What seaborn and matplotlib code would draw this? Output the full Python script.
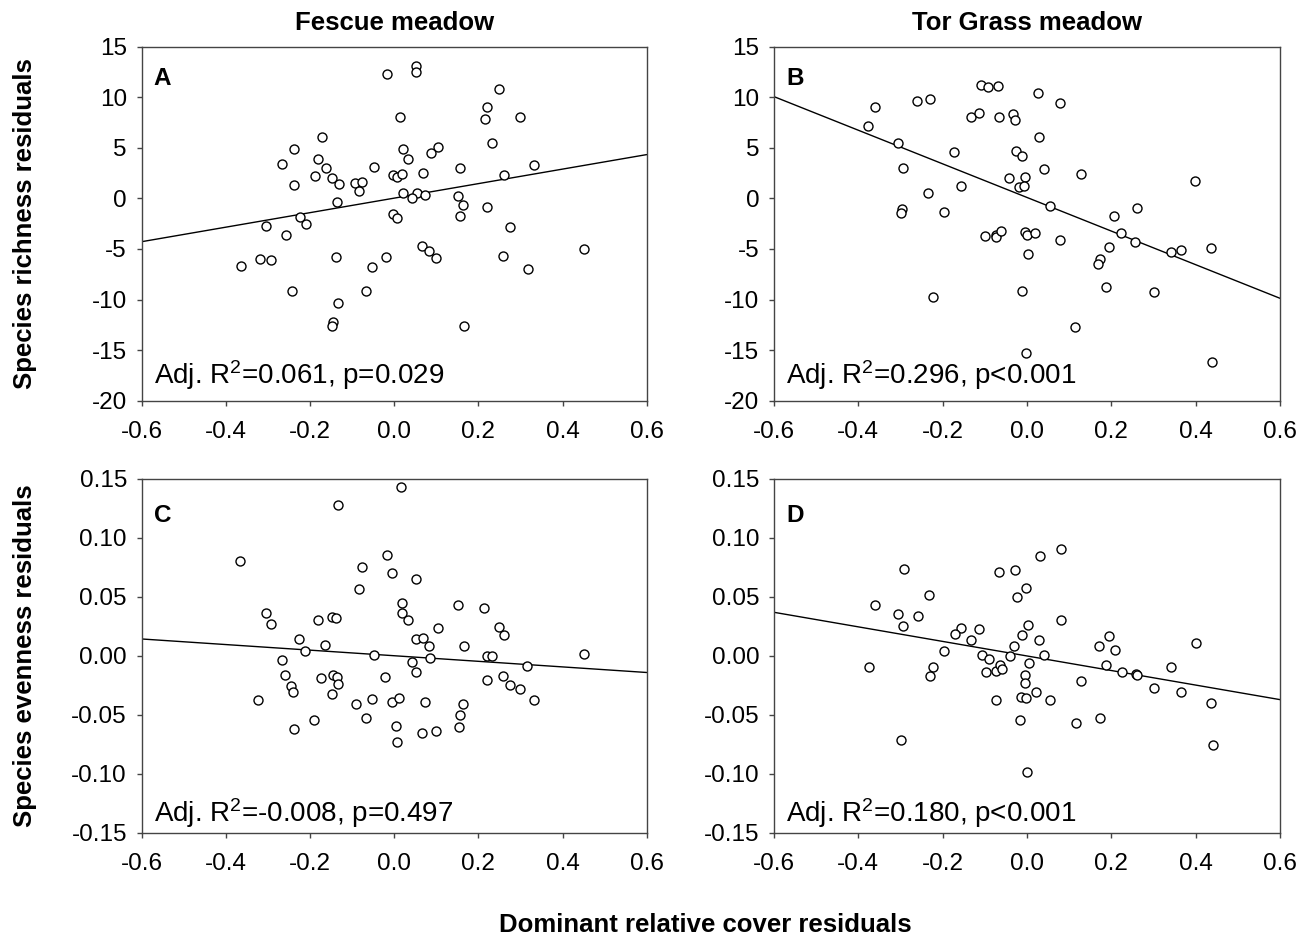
import numpy as np
import pandas as pd
import matplotlib
matplotlib.use('Agg')
import matplotlib.pyplot as plt
import seaborn as sns
from matplotlib.ticker import FormatStrFormatter

# A - Fescue meadow, species richness residuals vs dominant cover residuals
cover_A = [-0.018, -0.172, -0.239, -0.267, -0.181, -0.163, -0.048, -0.189, -0.147, -0.131,
           -0.237, -0.093, -0.076, -0.084, -0.136, -0.225, -0.210, -0.304, -0.258, -0.365,
           -0.320, -0.293, -0.139, -0.020, -0.052, -0.244, -0.067, -0.133, -0.146, -0.149,
           0.052, 0.052, 0.250, 0.220, 0.215, 0.299, 0.014, 0.233, 0.020, 0.103,
           0.087, 0.033, 0.156, 0.331, -0.004, 0.0075, 0.019, 0.069, 0.262, 0.020,
           0.054, 0.043, 0.073, 0.152, 0.164, 0.156, 0.220, -0.004, 0.0075, 0.276,
           0.450, 0.259, 0.317, 0.067, 0.083, 0.100, 0.166]
rich_A = [12.27, 6.07, 4.92, 3.37, 3.86, 3.00, 3.07, 2.18, 1.98, 1.39,
          1.32, 1.49, 1.65, 0.73, -0.33, -1.87, -2.53, -2.70, -3.65, -6.65,
          -5.99, -6.09, -5.76, -5.83, -6.82, -9.13, -9.13, -10.38, -12.26, -12.62,
          13.09, 12.50, 10.78, 9.04, 7.85, 8.01, 8.01, 5.44, 4.92, 5.11,
          4.45, 3.93, 3.00, 3.27, 2.31, 2.15, 2.38, 2.48, 2.34, 0.56,
          0.56, 0.04, 0.30, 0.24, -0.62, -1.71, -0.89, -1.55, -1.97, -2.86,
          -5.01, -5.66, -6.95, -4.68, -5.20, -5.93, -12.65]

# B - Tor Grass meadow, species richness residuals
cover_B = [-0.110, -0.092, -0.068, -0.360, -0.261, -0.229, -0.376, -0.134, -0.115, -0.066,
           -0.034, -0.029, -0.306, -0.173, -0.026, -0.013, -0.293, -0.157, -0.042, -0.005,
           -0.018, -0.007, -0.234, -0.296, -0.300, -0.198, -0.099, -0.074, -0.073, -0.061,
           -0.005, 0.001, 0.020, 0.003, -0.013, -0.223, -0.002,
           0.027, 0.078, 0.029, 0.040, 0.128, 0.398, 0.055, 0.207, 0.261, 0.223,
           0.257, 0.194, 0.079, 0.341, 0.364, 0.436, 0.173, 0.168, 0.187, 0.300,
           0.114, 0.439]
rich_B = [11.21, 10.98, 11.14, 9.07, 9.63, 9.79, 7.19, 8.05, 8.47, 8.01,
          8.38, 7.75, 5.48, 4.59, 4.65, 4.19, 3.04, 1.22, 2.05, 2.08,
          1.13, 1.18, 0.50, -1.05, -1.48, -1.35, -3.72, -3.62, -3.82, -3.19,
          -3.29, -3.65, -3.39, -5.50, -9.16, -9.78, -15.26,
          10.39, 9.40, 6.07, 2.94, 2.41, 1.75, -0.79, -1.74, -0.92, -3.46,
          -4.35, -4.84, -4.15, -5.30, -5.07, -4.91, -6.03, -6.46, -8.73, -9.29,
          -12.75, -16.21]

# C - Fescue meadow, species evenness residuals
cover_C = [-0.133, -0.366, -0.017, -0.077, -0.084, -0.305, -0.293, -0.182, -0.149, -0.138,
           -0.226, -0.164, -0.211, -0.049, -0.267, -0.259, -0.174, -0.146, -0.137, -0.134,
           -0.021, -0.245, -0.240, -0.148, -0.323, -0.092, -0.053, -0.190, -0.067, -0.239,
           0.017, -0.005, 0.051, 0.019, 0.019, 0.033, 0.151, 0.214, 0.103, 0.052,
           0.069, 0.082, 0.166, 0.250, 0.262, 0.086, 0.220, 0.233, 0.316, 0.450,
           0.043, 0.051, 0.220, 0.259, 0.276, 0.298, 0.331, -0.006, 0.012, 0.072,
           0.163, 0.156, 0.155, 0.005, 0.006, 0.066, 0.099]
even_C = [0.128, 0.0805, 0.0853, 0.0751, 0.057, 0.0367, 0.0268, 0.0305, 0.0327, 0.0324,
          0.0141, 0.0093, 0.0039, 0.0005, -0.0031, -0.0159, -0.0184, -0.0159, -0.0176, -0.0235,
          -0.0176, -0.0255, -0.0303, -0.0325, -0.0373, -0.0404, -0.0368, -0.054, -0.0523, -0.0619,
          0.143, 0.0703, 0.0649, 0.0449, 0.0364, 0.0305, 0.0435, 0.0409, 0.0234, 0.0144,
          0.0152, 0.0084, 0.0087, 0.0245, 0.0178, -0.002, 0.0002, 0.0002, -0.0082, 0.0019,
          -0.0054, -0.0139, -0.0201, -0.0173, -0.0249, -0.0277, -0.0373, -0.0387, -0.0359, -0.0387,
          -0.0407, -0.05, -0.0599, -0.0594, -0.0729, -0.065, -0.0633]

# D - Tor Grass meadow, species evenness residuals
cover_D = [-0.291, -0.067, -0.028, -0.003, -0.0245, -0.233, -0.360, -0.305, -0.295, -0.259,
           -0.157, -0.172, -0.115, -0.134, -0.011, 0.003, -0.032, -0.198, -0.1075, -0.040,
           -0.091, 0.005, -0.375, -0.223, -0.229, -0.098, -0.073, -0.065, -0.0585, -0.0055,
           -0.004, -0.0735, -0.0135, -0.003, -0.0166, -0.298, -0.001,
           0.031, 0.080, 0.080, 0.0285, 0.041, 0.0206, 0.0545, 0.129, 0.170, 0.195,
           0.209, 0.187, 0.2245, 0.2585, 0.261, 0.302, 0.341, 0.365, 0.400, 0.437,
           0.440, 0.115, 0.174]
even_D = [0.0737, 0.0709, 0.0726, 0.0573, 0.050, 0.0514, 0.0432, 0.0356, 0.0257, 0.0336,
          0.0234, 0.0189, 0.0231, 0.0135, 0.0178, 0.0259, 0.0084, 0.0039, 0.0008, -0.0003,
          -0.0029, -0.0057, -0.0096, -0.0094, -0.017, -0.0133, -0.0125, -0.0077, -0.0111, -0.0161,
          -0.0232, -0.037, -0.0351, -0.0356, -0.054, -0.0715, -0.0983,
          0.0844, 0.0906, 0.0305, 0.0135, 0.0008, -0.0305, -0.037, -0.0209, 0.0084, 0.0169,
          0.005, -0.0074, -0.0139, -0.0153, -0.0161, -0.0269, -0.0094, -0.0305, 0.011, -0.0396,
          -0.0757, -0.0571, -0.0526]

# fitted regression lines (values at x = -0.6 and 0.6)
fit_x = [-0.6, 0.6]
fit_A = [-4.28, 4.33]
fit_B = [10.06, -9.88]
fit_C = [0.0144, -0.014]
fit_D = [0.037, -0.037]

stats_A = "Adj. R$\\mathregular{^2}$=0.061, p=0.029"
stats_B = "Adj. R$\\mathregular{^2}$=0.296, p<0.001"
stats_C = "Adj. R$\\mathregular{^2}$=-0.008, p=0.497"
stats_D = "Adj. R$\\mathregular{^2}$=0.180, p<0.001"

sns.set_style('ticks')
plt.rcParams['font.family'] = ['Liberation Sans', 'DejaVu Sans']
plt.rcParams['mathtext.fontset'] = 'custom'
plt.rcParams['mathtext.rm'] = 'Liberation Sans'
plt.rcParams['axes.unicode_minus'] = False
plt.rcParams['text.color'] = 'black'
plt.rcParams['axes.labelcolor'] = 'black'

fig = plt.figure(figsize=(13.11, 9.41), dpi=100)

panels = [
    ('A', [0.1081, 0.5742, 0.3852, 0.3762], cover_A, rich_A, fit_A, stats_A),
    ('B', [0.5904, 0.5742, 0.3860, 0.3762], cover_B, rich_B, fit_B, stats_B),
    ('C', [0.1081, 0.1148, 0.3852, 0.3762], cover_C, even_C, fit_C, stats_C),
    ('D', [0.5904, 0.1148, 0.3860, 0.3762], cover_D, even_D, fit_D, stats_D),
]

for letter, pos, xs, ys, fit, stats in panels:
    ax = fig.add_axes(pos)
    sns.lineplot(x=fit_x, y=fit, ax=ax, color='black', linewidth=1.0, zorder=2)
    sns.scatterplot(x=xs, y=ys, ax=ax, s=42, color='white', edgecolor='black',
                    linewidth=1.0, zorder=3)
    ax.set_xlim(-0.6, 0.6)
    ax.set_xticks(np.arange(-0.6, 0.61, 0.2))
    ax.xaxis.set_major_formatter(FormatStrFormatter('%.1f'))
    if letter in 'AB':
        ax.set_ylim(-20, 15)
        ax.set_yticks(np.arange(-20, 16, 5))
        letter_y, stats_y = 0.893, 0.048
    else:
        ax.set_ylim(-0.15, 0.15)
        ax.set_yticks(np.arange(-0.15, 0.151, 0.05))
        ax.yaxis.set_major_formatter(FormatStrFormatter('%.2f'))
        letter_y, stats_y = 0.878, 0.03
    for sp in ax.spines.values():
        sp.set_color('#444444')
        sp.set_linewidth(1.0)
    ax.tick_params(axis='both', direction='out', length=3.6, width=1.0, color='#444444',
                   labelsize=17.5, labelcolor='black')
    ax.tick_params(axis='x', pad=11)
    ax.tick_params(axis='y', pad=7)
    ax.text(0.024, letter_y, letter, transform=ax.transAxes, fontsize=17.5,
            fontweight='bold', va='baseline', ha='left', color='black')
    ax.text(0.024, stats_y, stats, transform=ax.transAxes, fontsize=20,
            va='baseline', ha='left', color='black')
    if letter == 'A':
        ax.set_title('Fescue meadow', fontsize=18.5, fontweight='bold', pad=12, color='black')
    if letter == 'B':
        ax.set_title('Tor Grass meadow', fontsize=18.5, fontweight='bold', pad=12, color='black')

fig.text(0.0187, 0.7623, 'Species richness residuals', rotation=90, ha='center',
         va='center', fontsize=18.5, fontweight='bold', color='black')
fig.text(0.0187, 0.3029, 'Species evenness residuals', rotation=90, ha='center',
         va='center', fontsize=18.5, fontweight='bold', color='black')
fig.text(0.538, 0.017, 'Dominant relative cover residuals', ha='center', va='center',
         fontsize=18.5, fontweight='bold', color='black')

fig.savefig('out.png', dpi=100)
